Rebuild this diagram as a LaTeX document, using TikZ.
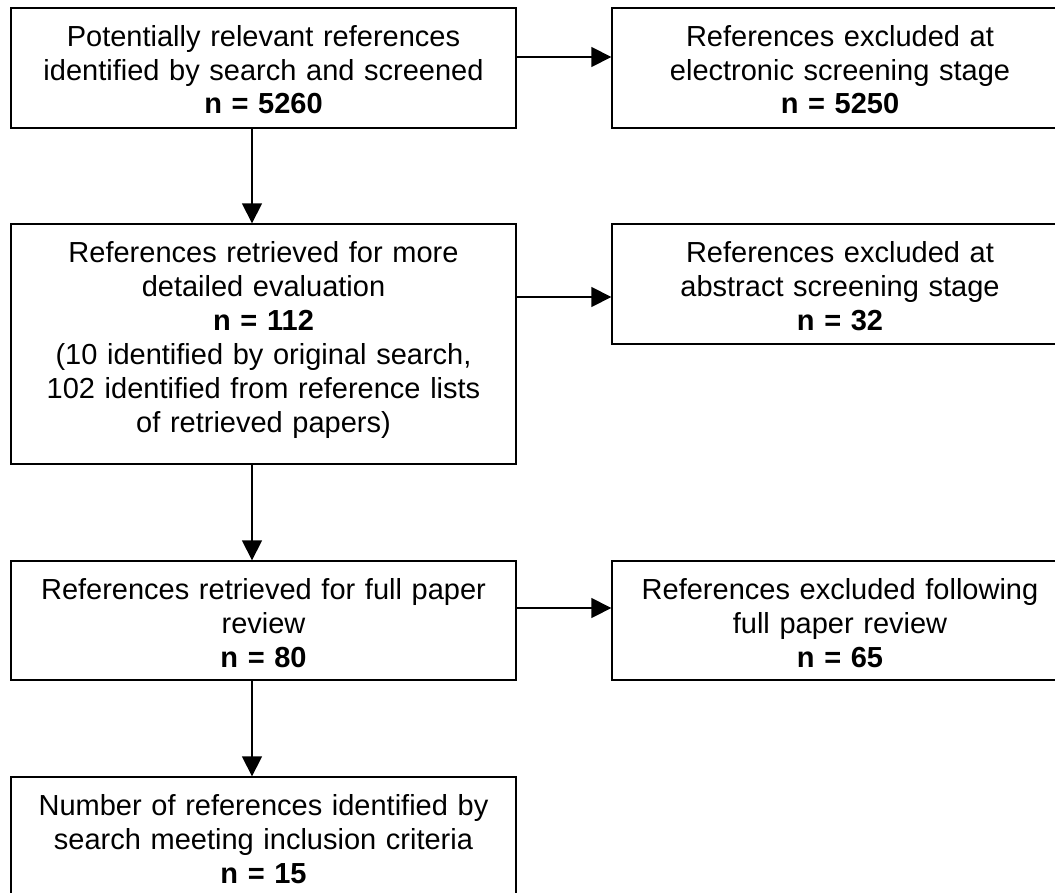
\documentclass[tikz,border=0pt]{standalone}
\usepackage{fontspec}
\setmainfont{Liberation Sans}
\usetikzlibrary{arrows.meta}
\tikzset{mybox/.style={draw,line width=1pt,align=center,inner xsep=7.5pt,inner ysep=0pt,text height=28.5pt,text depth=61.5pt,font=\fontsize{21.75}{25.5}\selectfont}}
\tikzset{leftbox/.style={mybox,text width=363.75pt}}
\tikzset{rightbox/.style={mybox,text width=327pt}}
\tikzset{myarrow/.style={line width=1pt,-{Triangle[length=15pt,width=15pt]}}}

\begin{document}
\begin{tikzpicture}[x=0.75pt,y=-0.75pt]
	\useasboundingbox (0,0) rectangle (1055,892);
	\clip (0,0) rectangle (1055,892);

	% main column
	\node[leftbox] (A) at (263.5,68) {Potentially relevant references\\identified by search and screened\\\textbf{n = 5260}};
	\node[leftbox,text depth=151.5pt] (C) at (263.5,344) {References retrieved for more\\detailed evaluation\\\textbf{n = 112}\\(10 identified by original search,\\102 identified from reference lists\\of retrieved papers)};
	\node[leftbox,text depth=60.75pt] (E) at (263.5,620.5) {References retrieved for full paper\\review\\\textbf{n = 80}};
	\node[leftbox] (G) at (263.5,837) {Number of references identified by\\search meeting inclusion criteria\\\textbf{n = 15}};

	% excluded column
	\node[rightbox] (B) at (840,68) {References excluded at\\electronic screening stage\\\textbf{n = 5250}};
	\node[rightbox] (D) at (840,284) {References excluded at\\abstract screening stage\\\textbf{n = 32}};
	\node[rightbox,text depth=60.75pt] (F) at (840,620.5) {References excluded following\\full paper review\\\textbf{n = 65}};

	\coordinate (ab) at ([yshift=8.25pt]A.east);
	\coordinate (cd) at ([yshift=-9.75pt]D.west);
	\coordinate (ef) at ([yshift=9.375pt]E.east);
	\coordinate (ac) at ([xshift=-8.625pt]A.south);
	\coordinate (ce) at ([xshift=-8.625pt]C.south);
	\coordinate (eg) at ([xshift=-8.625pt]E.south);

	\draw[myarrow] (ab) -- (ab -| B.west);
	\draw[myarrow] (cd -| C.east) -- (cd);
	\draw[myarrow] (ef) -- (ef -| F.west);

	\draw[myarrow] (ac) -- (ac |- C.north);
	\draw[myarrow] (ce) -- (ce |- E.north);
	\draw[myarrow] (eg) -- (eg |- G.north); % down arrows
\end{tikzpicture}
\end{document}
